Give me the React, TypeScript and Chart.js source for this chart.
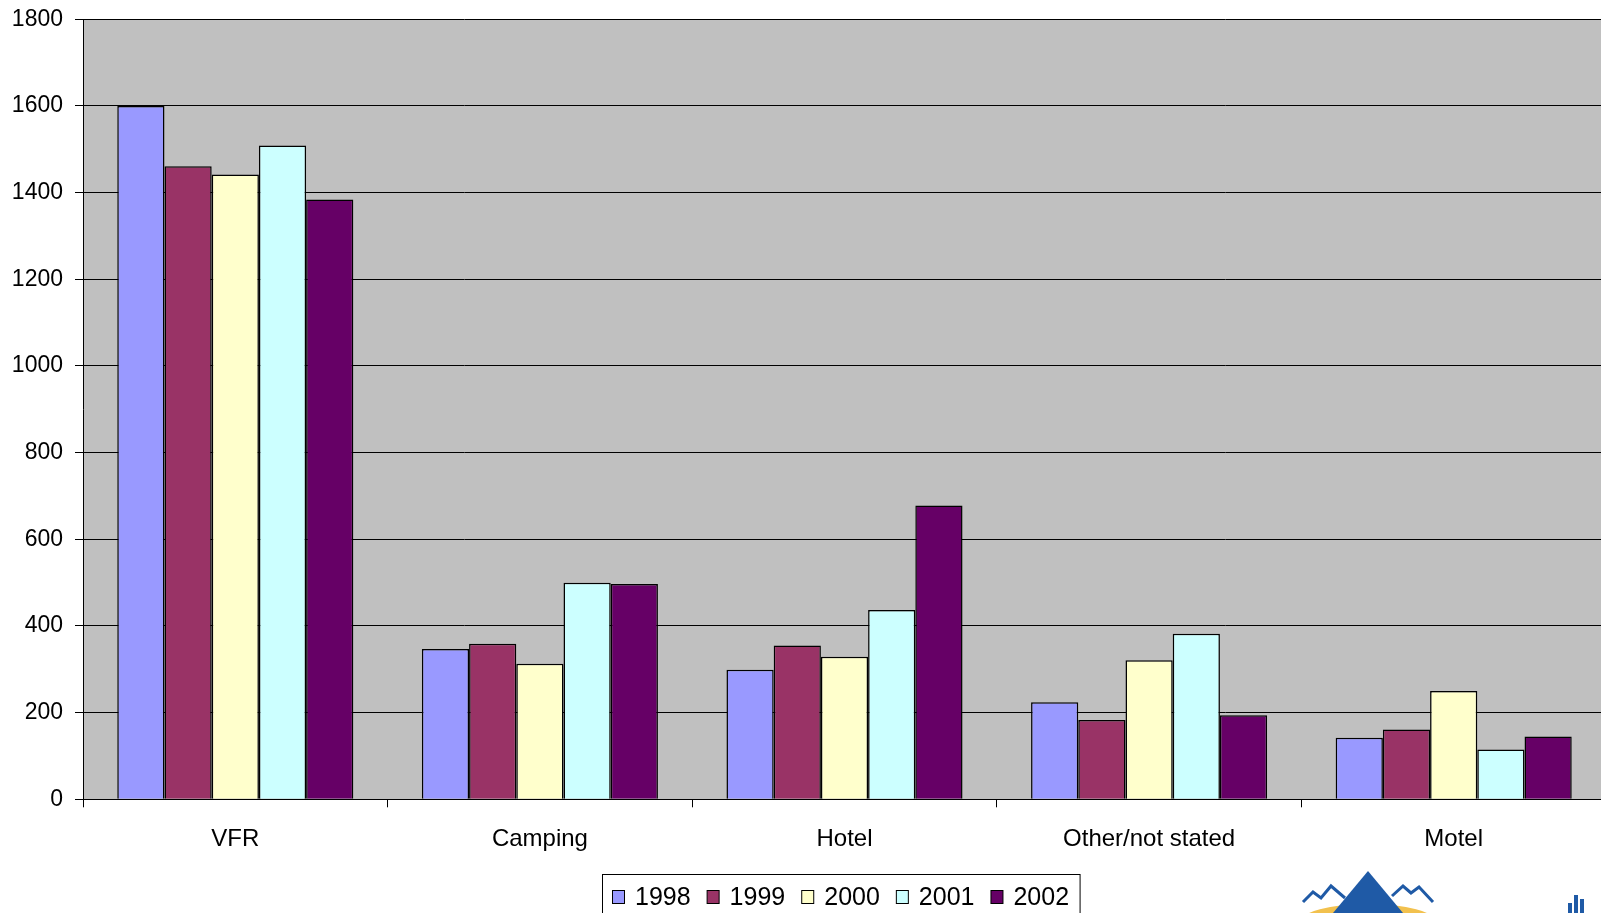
import React, { useEffect, useRef } from "react";
import { Chart, registerables } from "chart.js";

Chart.register(...registerables);

const categories = ["VFR", "Camping", "Hotel", "Other/not stated", "Motel"];
const seriesLabels = ["1998", "1999", "2000", "2001", "2002"];
const v1998 = [1600, 347, 299, 224, 142];
const v1999 = [1461, 359, 355, 183, 161];
const v2000 = [1442, 313, 329, 321, 250];
const v2001 = [1509, 500, 437, 382, 115];
const v2002 = [1384, 497, 678, 194, 145];
const seriesColors = ["#9999FF", "#993366", "#FFFFCC", "#CCFFFF", "#660066"];
const yTicks = [0, 200, 400, 600, 800, 1000, 1200, 1400, 1600, 1800];

const FONT = "'Liberation Sans', Arial, sans-serif";

const bgPlugin = {
  id: "plotBg",
  beforeDraw(chart: any) {
    const { ctx, chartArea } = chart;
    ctx.save();
    ctx.fillStyle = "#ffffff";
    ctx.fillRect(0, 0, chart.width, chart.height);
    ctx.fillStyle = "#C0C0C0";
    ctx.fillRect(chartArea.left, chartArea.top, chartArea.right - chartArea.left, chartArea.bottom - chartArea.top);
    ctx.restore();
  },
};

const legendPlugin = {
  id: "boxLegend",
  afterDraw(chart: any) {
    const { ctx } = chart;
    ctx.save();
    ctx.font = `25px ${FONT}`;
    const boxLeft = 602.5;
    const boxTop = 874.5;
    let x = 612;
    const items = chart.data.datasets.map((ds: any) => {
      const w = ctx.measureText(ds.label).width;
      const it = { x, label: ds.label, color: ds.backgroundColor, w };
      x += 12 + 11 + w + 16;
      return it;
    });
    const last = items[items.length - 1];
    const boxRight = last.x + 23 + last.w + 11;
    ctx.fillStyle = "#fff";
    ctx.fillRect(boxLeft, boxTop, boxRight - boxLeft, 60);
    ctx.strokeStyle = "#000";
    ctx.lineWidth = 1;
    ctx.strokeRect(boxLeft, boxTop, boxRight - boxLeft, 60);
    items.forEach((it: any) => {
      ctx.fillStyle = it.color;
      ctx.fillRect(it.x + 0.5, 890.5, 12, 13);
      ctx.strokeStyle = "#000";
      ctx.strokeRect(it.x + 0.5, 890.5, 12, 13);
      ctx.fillStyle = "#000";
      ctx.textBaseline = "alphabetic";
      ctx.textAlign = "left";
      ctx.fillText(it.label, it.x + 23, 905);
    });
    // decorative logo (bottom right)
    ctx.fillStyle = "#F2C14E";
    ctx.beginPath();
    ctx.ellipse(1368, 922, 68, 18, 0, 0, Math.PI * 2);
    ctx.fill();
    ctx.fillStyle = "#1F5AA6";
    ctx.beginPath();
    ctx.moveTo(1368, 871);
    ctx.lineTo(1403, 913);
    ctx.lineTo(1333, 913);
    ctx.closePath();
    ctx.fill();
    ctx.strokeStyle = "#1F5AA6";
    ctx.lineWidth = 3;
    ctx.beginPath();
    ctx.moveTo(1303, 902);
    ctx.lineTo(1313, 892);
    ctx.lineTo(1321, 898);
    ctx.lineTo(1331, 886);
    ctx.lineTo(1345, 898);
    ctx.stroke();
    ctx.beginPath();
    ctx.moveTo(1392, 896);
    ctx.lineTo(1403, 886);
    ctx.lineTo(1411, 893);
    ctx.lineTo(1419, 887);
    ctx.lineTo(1433, 902);
    ctx.stroke();
    ctx.fillStyle = "#1F5AA6";
    ctx.fillRect(1568, 903, 4, 10);
    ctx.fillRect(1574, 895, 4, 18);
    ctx.fillRect(1580, 899, 4, 14);
    ctx.restore();
  },
};

export default function App() {
  const ref = useRef<HTMLCanvasElement | null>(null);
  useEffect(() => {
    document.body.style.margin = "0";
    const values = [v1998, v1999, v2000, v2001, v2002];
    const targetTop = 19.3;
    const targetBottom = 799.3;
    const fit = { xHeight: 114 };
    const chart = new Chart(ref.current as HTMLCanvasElement, {
      type: "bar",
      data: {
        labels: categories,
        datasets: seriesLabels.map((l, i) => ({
          label: l,
          data: values[i],
          backgroundColor: seriesColors[i],
          borderColor: "#000",
          borderWidth: 1.5,
          barPercentage: 1,
          categoryPercentage: 0.775,
        })),
      },
      options: {
        animation: false,
        responsive: false,
        devicePixelRatio: 1,
        layout: { padding: { top: 19, right: 14, left: 0, bottom: 0 } },
        plugins: { legend: { display: false }, tooltip: { enabled: false } },
        scales: {
          x: {
            type: "category",
            offset: true,
            grid: { offset: true, drawOnChartArea: false, drawTicks: true, tickLength: 8, color: "#000" },
            border: { color: "#000", width: 1 },
            ticks: { color: "#000", padding: 18, font: { family: FONT, size: 24 }, maxRotation: 0, autoSkip: false },
            afterFit: (s: any) => { s.height = fit.xHeight; },
          },
          y: {
            min: 0,
            max: 1800,
            afterBuildTicks: (s: any) => { s.ticks = yTicks.map((v) => ({ value: v })); },
            grid: { color: "#000", drawTicks: true, tickLength: 8, lineWidth: 1 },
            border: { color: "#000", width: 1 },
            ticks: { color: "#000", padding: 12, font: { family: FONT, size: 23, lineHeight: 0.3 }, callback: (v: any) => String(v) },
            afterFit: (s: any) => { s.width = 83; },
          },
        },
      },
      plugins: [bgPlugin, legendPlugin],
    });
    // correct chart area to match target positions
    for (let k = 0; k < 3; k++) {
      const ca = chart.chartArea;
      const dTop = targetTop - ca.top;
      const dBottom = targetBottom - ca.bottom;
      if (Math.abs(dTop) < 0.2 && Math.abs(dBottom) < 0.2) break;
      const pad: any = (chart.options.layout as any).padding;
      pad.top = pad.top + dTop;
      fit.xHeight = fit.xHeight - dBottom;
      chart.update();
    }
    return () => chart.destroy();
  }, []);
  return (
    <div style={{ position: "relative", width: 1601, height: 913, overflow: "hidden", background: "#fff" }}>
      <canvas ref={ref} width={1620} height={913} style={{ width: 1620, height: 913, display: "block" }} />
    </div>
  );
}
